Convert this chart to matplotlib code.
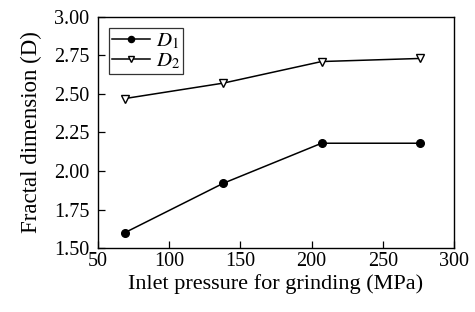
import numpy as np
import matplotlib
matplotlib.use("Agg")
import matplotlib.pyplot as plt

plt.rcParams['font.family'] = ['Liberation Serif', 'DejaVu Serif']
plt.rcParams['mathtext.fontset'] = 'stix'

pressure = [69, 138, 207, 276]
d1 = [1.60, 1.92, 2.18, 2.18]
d2 = [2.47, 2.57, 2.71, 2.73]

xticks = [50, 100, 150, 200, 250, 300]
yticks = [1.50, 1.75, 2.00, 2.25, 2.50, 2.75, 3.00]

fig = plt.figure(figsize=(4.75, 3.12), dpi=100)
ax = fig.add_axes([0.206, 0.205, 0.75, 0.741])

ax.plot(pressure, d1, color="k", lw=1.1, marker="o", ms=5.5, label="$D_1$")
ax.plot(pressure, d2, color="k", lw=1.1, marker="v", ms=6, mfc="white", mew=1.0, label="$D_2$")

ax.set_xlim(50, 300)
ax.set_ylim(1.5, 3.0)
ax.set_xticks(xticks)
ax.set_yticks(yticks)
ax.set_yticklabels(["%.2f" % v for v in yticks])
ax.tick_params(direction="in", labelsize=14.5, length=5, width=0.9)
ax.tick_params(axis="y", pad=6)
ax.tick_params(axis="x", pad=3)
for s in ax.spines.values():
  s.set_linewidth(1.0)

ax.set_xlabel("Inlet pressure for grinding (MPa)", fontsize=16, labelpad=2)
ax.set_ylabel("Fractal dimension (D)", fontsize=16.5, labelpad=9)

leg = ax.legend(loc="upper left", fontsize=15, fancybox=False, edgecolor="k",
                handlelength=1.8, borderpad=0.15, labelspacing=0.0, handletextpad=0.3,
                borderaxespad=0.55, markerscale=0.8)
leg.get_frame().set_linewidth(0.9)

plt.savefig("out.png", dpi=100)
